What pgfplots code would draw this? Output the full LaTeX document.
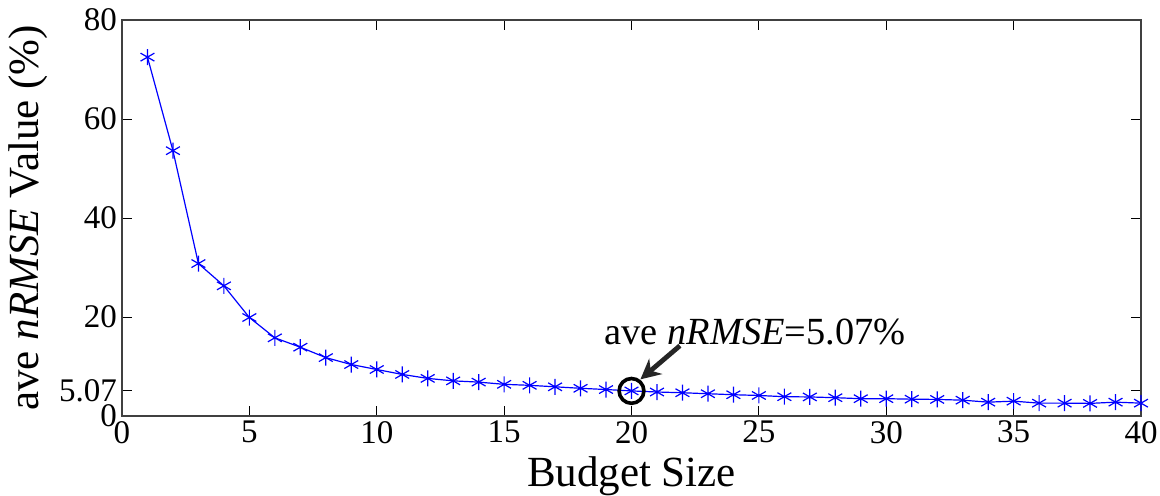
\documentclass[border=0pt]{standalone}
\usepackage{pgfplots}
\pgfplotsset{compat=1.18}
\usetikzlibrary{arrows.meta}
\usepackage{fontspec}
\setmainfont{Liberation Serif}
\begin{document}
\begin{tikzpicture}
\begin{axis}[
  at={(0,0)}, anchor=south west,
  scale only axis,
  width=509.5pt, height=198pt,
  xmin=0, xmax=40, ymin=0, ymax=80,
  xtick={0,5,...,40},
  ytick={0,5.07,20,40,60,80},
  yticklabels={0,5.07,20,40,60,80},
  tick align=inside,
  tick pos=both,
  major tick length=5pt,
  axis line style={line width=0.6pt, black!75},
  tick style={line width=0.5pt, black},
  /pgf/number format/assume math mode=true,
  ticklabel style={font=\fontsize{16.5}{18}\selectfont},
  yticklabel style={xshift=1pt},
  xticklabel style={yshift=1pt},
  xlabel={Budget Size},
  ylabel={ave \textit{nRMSE} Value (\%)},
  label style={font=\fontsize{21.5}{23}\selectfont},
  xlabel style={yshift=0pt},
  ylabel style={yshift=-1pt},
  clip=false,
]
\addplot[blue, line width=0.6pt, mark=asterisk, mark size=4pt, mark options={solid}] coordinates {
(1,72.5) (2,53.6) (3,30.8) (4,26.3) (5,19.9) (6,15.8) (7,13.9) (8,11.8) (9,10.4) (10,9.4)
(11,8.4) (12,7.6) (13,7.1) (14,6.85) (15,6.4) (16,6.2) (17,5.9) (18,5.6) (19,5.35) (20,5.07)
(21,4.85) (22,4.7) (23,4.5) (24,4.3) (25,4.15) (26,3.9) (27,3.85) (28,3.7) (29,3.5) (30,3.5)
(31,3.4) (32,3.35) (33,3.2) (34,2.8) (35,3.0) (36,2.6) (37,2.6) (38,2.55) (39,2.8) (40,2.6)
};
\addplot[black, line width=1.8pt, mark=o, mark size=6.2pt, only marks] coordinates {(20,5.07)};
\draw[line width=2.4pt, black!85, -{Stealth[length=10pt,width=10pt]}] (axis cs:21.9,14.2) -- (axis cs:20.35,7.4);
\node[anchor=base, font=\fontsize{19.2}{21}\selectfont, inner sep=0pt] at (axis cs:24.85,14.4) {ave \textit{nRMSE}=5.07\%};
\end{axis}
\pgfresetboundingbox
\path[use as bounding box] (-61pt,-39.5pt) rectangle (519pt,208pt);
\end{tikzpicture}
\end{document}
